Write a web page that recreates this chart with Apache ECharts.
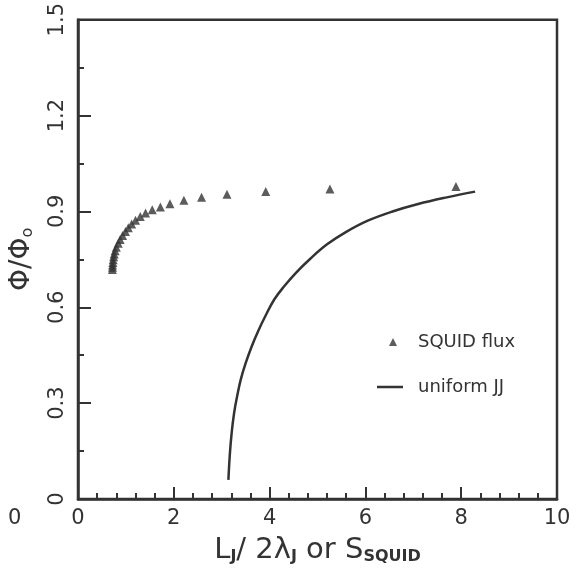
<!DOCTYPE html>
<html>
<head>
  <meta charset="UTF-8">
  <title>SQUID flux vs uniform JJ</title>
  <script src="https://cdn.jsdelivr.net/npm/echarts@6/dist/echarts.min.js"></script>
  <style>
    html, body { margin: 0; padding: 0; background: #fff; }
    #main { width: 577px; height: 570px; }
  </style>
</head>
<body>
  <div id="main"></div>
  <script>
    // SQUID flux points (triangles)
    const squidX = [7.89, 5.26, 3.92, 3.11, 2.58, 2.21, 1.92, 1.72, 1.55, 1.41,
                    1.30, 1.20, 1.12, 1.05, 0.99, 0.93, 0.88, 0.84, 0.80, 0.775,
                    0.755, 0.745, 0.735, 0.728, 0.722, 0.72, 0.718];
    const squidY = [0.978, 0.970, 0.962, 0.954, 0.944, 0.935, 0.924, 0.914, 0.905, 0.895,
                    0.884, 0.872, 0.861, 0.849, 0.837, 0.825, 0.812, 0.800, 0.788, 0.777,
                    0.767, 0.758, 0.749, 0.740, 0.732, 0.725, 0.718];

    // uniform JJ curve
    const jjX = [3.14, 3.17, 3.21, 3.26, 3.32, 3.40, 3.50, 3.62, 3.76, 3.92,
                 4.10, 4.30, 4.55, 4.85, 5.20, 5.60, 6.05, 6.55, 7.10, 7.70, 8.29];
    const jjY = [0.06, 0.14, 0.21, 0.27, 0.32, 0.375, 0.425, 0.475, 0.525, 0.575,
                 0.625, 0.665, 0.708, 0.752, 0.797, 0.836, 0.871, 0.899, 0.923, 0.944, 0.962];

    const xTicks = [0, 2, 4, 6, 8, 10];
    const yTicks = [0, 0.3, 0.6, 0.9, 1.2, 1.5];

    const ink = '#333';
    const font = 'DejaVu Sans';

    const chart = echarts.init(document.getElementById('main'));
    chart.setOption({
      animation: false,
      textStyle: { fontFamily: font, color: ink },
      grid: {
        left: 77, right: 20, top: 18, bottom: 69,
        show: true, borderColor: ink, borderWidth: 2.5, backgroundColor: 'transparent'
      },
      legend: [
        {
          data: ['SQUID flux'],
          left: 384, top: 328,
          icon: 'triangle', itemWidth: 8, itemHeight: 8,
          textStyle: { fontSize: 18, color: ink, padding: [0, 0, 0, 16] }
        },
        {
          data: ['uniform JJ'],
          left: 372, top: 373,
          icon: 'rect', itemWidth: 26, itemHeight: 2.5,
          textStyle: { fontSize: 18, color: ink, padding: [0, 0, 0, 10] }
        }
      ],
      xAxis: {
        type: 'value', min: 0, max: 10, interval: 2,
        name: 'L{s|J}/ 2λ{s|J} or S{s|SQUID}',
        nameLocation: 'middle', nameGap: 37,
        nameTextStyle: {
          fontSize: 29, color: ink,
          rich: { s: { fontSize: 16, fontWeight: 'bold', verticalAlign: 'bottom', padding: [13, 0, 0, 0], color: ink } }
        },
        axisLine: { lineStyle: { color: ink, width: 2.5 } },
        axisTick: { inside: true, length: 12, lineStyle: { color: ink, width: 2 } },
        minorTick: { show: true, splitNumber: 5, length: 6, lineStyle: { color: ink, width: 2 } },
        axisLabel: {
          fontSize: 21, color: ink, margin: 9,
          formatter: v => xTicks.includes(v) ? String(v) : ''
        },
        splitLine: { show: false }
      },
      yAxis: {
        type: 'value', min: 0, max: 1.5, interval: 0.3,
        name: 'Φ/Φ{s|o}',
        nameLocation: 'middle', nameGap: 42, nameRotate: 90,
        nameTextStyle: {
          fontSize: 28, color: ink,
          rich: { s: { fontSize: 16, verticalAlign: 'bottom', padding: [11, 0, 0, 0], color: ink } }
        },
        axisLine: { lineStyle: { color: ink, width: 2.5 } },
        axisTick: { inside: true, length: 13, lineStyle: { color: ink, width: 2 } },
        minorTick: { show: true, splitNumber: 2, length: 6, lineStyle: { color: ink, width: 2 } },
        axisLabel: {
          fontSize: 21, color: ink, rotate: 90, margin: 10,
          formatter: v => {
            const t = yTicks.find(y => Math.abs(y - v) < 1e-6);
            return t === undefined ? '' : (t === 0 ? '0' : t.toFixed(1));
          }
        },
        splitLine: { show: false }
      },
      graphic: [
        {
          type: 'text', left: 8, top: 508,
          style: { text: '0', font: '21px "DejaVu Sans"', fill: ink }
        }
      ],
      series: [
        {
          name: 'SQUID flux',
          type: 'scatter',
          symbol: 'triangle',
          symbolSize: 9,
          itemStyle: { color: ink },
          data: squidX.map((x, i) => [x, squidY[i]])
        },
        {
          name: 'uniform JJ',
          type: 'line',
          smooth: 0.4,
          showSymbol: false,
          symbol: 'none',
          lineStyle: { color: ink, width: 2.5 },
          itemStyle: { color: ink },
          data: jjX.map((x, i) => [x, jjY[i]])
        }
      ]
    });
  </script>
</body>
</html>
